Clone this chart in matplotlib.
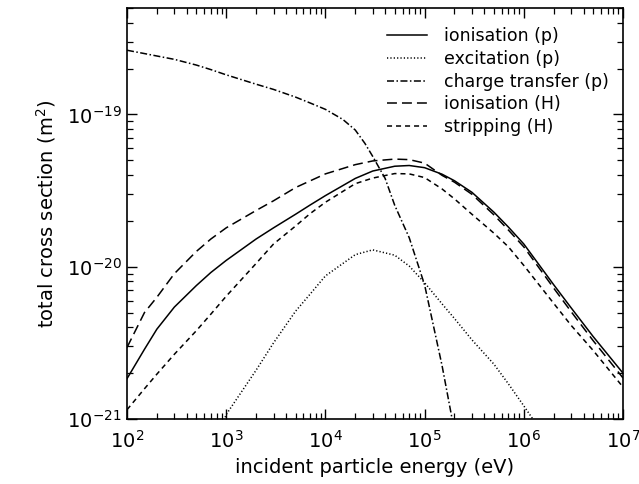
import matplotlib
matplotlib.use('Agg')
import matplotlib.pyplot as plt
import numpy as np
from matplotlib.ticker import LogLocator, NullFormatter

# incident energy grid (eV)
energy = [1e2, 1.5e2, 2e2, 3e2, 5e2, 7e2, 1e3, 2e3, 3e3, 5e3, 7e3, 1e4, 2e4, 3e4,
          5e4, 7e4, 1e5, 1.5e5, 2e5, 3e5, 5e5, 7e5, 1e6, 2e6, 3e6, 5e6, 1e7]

# cross sections (m^2)
ion_p = [1.84e-21, 2.87e-21, 3.89e-21, 5.43e-21, 7.52e-21, 9.16e-21, 1.10e-20, 1.52e-20,
         1.80e-20, 2.21e-20, 2.54e-20, 2.93e-20, 3.80e-20, 4.25e-20, 4.57e-20, 4.62e-20,
         4.47e-20, 4.05e-20, 3.67e-20, 3.08e-20, 2.28e-20, 1.82e-20, 1.41e-20, 7.62e-21,
         5.37e-21, 3.48e-21, 2.0e-21]
ion_H = [2.95e-21, 5.0e-21, 6.3e-21, 9.0e-21, 1.26e-20, 1.52e-20, 1.80e-20, 2.34e-20,
         2.71e-20, 3.31e-20, 3.66e-20, 4.07e-20, 4.68e-20, 4.95e-20, 5.09e-20, 5.05e-20,
         4.79e-20, 3.98e-20, 3.59e-20, 2.99e-20, 2.19e-20, 1.74e-20, 1.35e-20, 7.24e-21,
         5.07e-21, 3.27e-21, 1.86e-21]
strip_H = [1.15e-21, 1.58e-21, 1.97e-21, 2.66e-21, 3.80e-21, 4.88e-21, 6.40e-21, 1.05e-20,
           1.41e-20, 1.85e-20, 2.23e-20, 2.65e-20, 3.51e-20, 3.82e-20, 4.09e-20, 4.07e-20,
           3.85e-20, 3.24e-20, 2.79e-20, 2.21e-20, 1.66e-20, 1.35e-20, 1.02e-20, 5.75e-21,
           4.12e-21, 2.82e-21, 1.62e-21]

energy_exc = [9e2, 1e3, 2e3, 3e3, 5e3, 7e3, 1e4, 2e4, 3e4, 5e4, 7e4, 1e5, 1.5e5, 2e5,
              3e5, 5e5, 7e5, 1e6, 1.3e6]
exc_p = [8.9e-22, 1.07e-21, 2.09e-21, 3.16e-21, 5.1e-21, 6.6e-21, 8.7e-21, 1.20e-20,
         1.29e-20, 1.19e-20, 1.01e-20, 7.85e-21, 5.7e-21, 4.57e-21, 3.31e-21, 2.29e-21,
         1.70e-21, 1.22e-21, 9.5e-22]

energy_ct = [1e2, 1.5e2, 2e2, 3e2, 5e2, 7e2, 1e3, 2e3, 3e3, 5e3, 7e3, 1e4, 1.5e4, 2e4,
             2.5e4, 3e4, 4e4, 5e4, 7e4, 1e5, 1.5e5, 2e5]
ct_p = [2.64e-19, 2.51e-19, 2.42e-19, 2.30e-19, 2.11e-19, 1.97e-19, 1.82e-19, 1.58e-19,
        1.46e-19, 1.30e-19, 1.19e-19, 1.08e-19, 9.27e-20, 7.9e-20, 6.46e-20, 5.3e-20,
        3.8e-20, 2.53e-20, 1.55e-20, 7.6e-21, 2.24e-21, 8.3e-22]

labels = ['ionisation (p)', 'excitation (p)', 'charge transfer (p)',
          'ionisation (H)', 'stripping (H)']
xticks = [1e2, 1e3, 1e4, 1e5, 1e6, 1e7]
yticks = [1e-21, 1e-20, 1e-19]

fig = plt.figure(figsize=(6.39, 4.84), dpi=100)
ax = fig.add_axes([127/639, 1-419/484, 496/639, 411/484])

lw = 1.1
ax.plot(energy, ion_p, color='black', lw=lw, label=labels[0])
ax.plot(energy_exc, exc_p, color='black', lw=lw, dashes=(0.8, 1.4), label=labels[1])
ax.plot(energy_ct, ct_p, color='black', lw=lw, dashes=(4.6, 1.6, 1.0, 1.6), label=labels[2])
ax.plot(energy, ion_H, color='black', lw=lw, dashes=(6.5, 3.3), label=labels[3])
ax.plot(energy, strip_H, color='black', lw=lw, dashes=(3.3, 2.6), label=labels[4])

ax.set_xscale('log')
ax.set_yscale('log')
ax.set_xlim(1e2, 1e7)
ax.set_ylim(1e-21, 5e-19)
ax.set_xticks(xticks)
ax.set_yticks(yticks)

ax.xaxis.set_minor_locator(LogLocator(base=10, subs=np.arange(2, 10)))
ax.yaxis.set_minor_locator(LogLocator(base=10, subs=np.arange(2, 10)))
ax.xaxis.set_minor_formatter(NullFormatter())
ax.yaxis.set_minor_formatter(NullFormatter())

ax.tick_params(which='both', direction='in', top=True, right=True, labelsize=14)
ax.tick_params(which='major', length=7, width=1.0)
ax.tick_params(which='minor', length=4.2, width=0.9)
ax.tick_params(axis='x', which='major', pad=8)
ax.tick_params(axis='y', which='major', pad=4)
for s in ax.spines.values():
    s.set_linewidth(1.2)

ax.set_xlabel('incident particle energy (eV)', fontsize=14, labelpad=4)
ax.set_ylabel('total cross section (m$^2$)', fontsize=14, labelpad=6)

ax.legend(loc='upper left', bbox_to_anchor=(0.524, 0.953), frameon=False,
          fontsize=12.5, handlelength=2.3, handletextpad=1.0, labelspacing=0.27,
          borderpad=0, borderaxespad=0)

fig.savefig('out.png', dpi=100)
